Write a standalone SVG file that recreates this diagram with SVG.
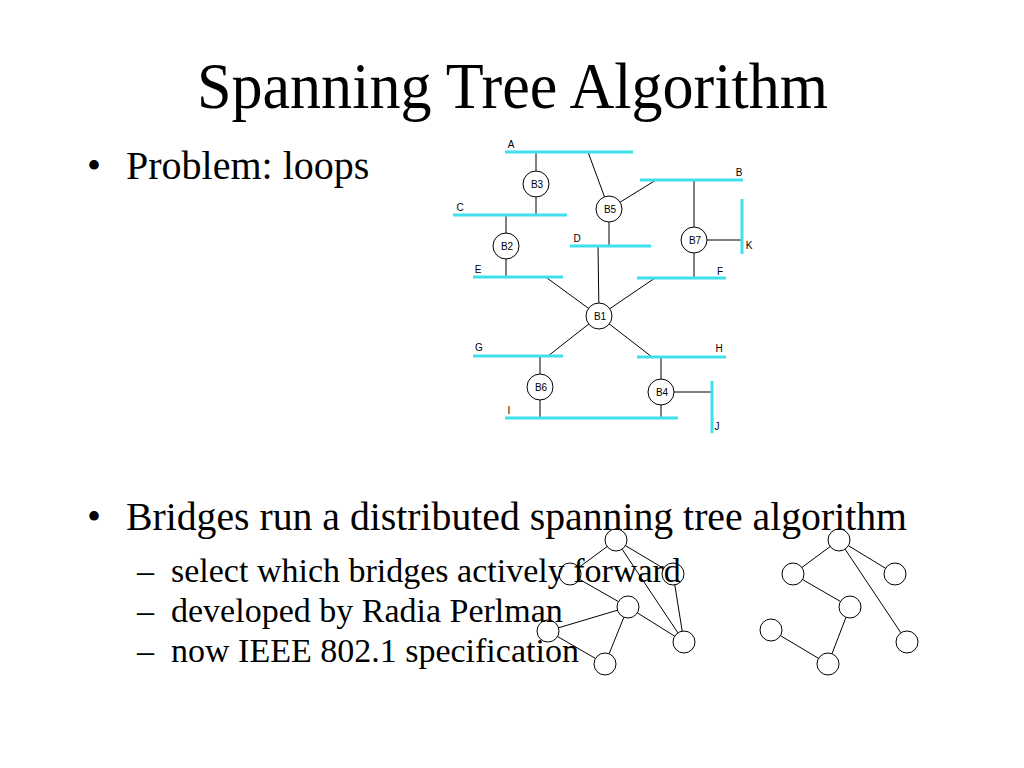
<svg xmlns="http://www.w3.org/2000/svg" width="1024" height="768" viewBox="0 0 1024 768">
<style>
.t{font-family:"Liberation Serif","Times New Roman",serif;fill:#000}
.lbl{font-family:"Liberation Sans",Arial,sans-serif;font-size:10px;fill:#000;text-anchor:middle}
.seg{stroke:#3fe0ee;stroke-width:3;fill:none}
.ln{stroke:#000;stroke-width:1;fill:none}
.br{fill:#fff;stroke:#000;stroke-width:1}
.gn{fill:none;stroke:#000;stroke-width:1}
</style>
<rect width="1024" height="768" fill="#fff"/>
<g id="title"><text class="t" x="197" y="108" font-size="66" textLength="631" lengthAdjust="spacingAndGlyphs">Spanning Tree Algorithm</text></g>
<g id="bullets">
<text class="t" x="87" y="179" font-size="40">•</text>
<text class="t" x="126" y="179" font-size="40">Problem: loops</text>
<text class="t" x="87" y="530" font-size="40">•</text>
<text class="t" x="126" y="530" font-size="40" textLength="781" lengthAdjust="spacingAndGlyphs">Bridges run a distributed spanning tree algorithm</text>
<text class="t" x="137" y="582" font-size="34">–</text>
<text class="t" x="171" y="582" font-size="34">select which bridges actively forward</text>
<text class="t" x="137" y="622" font-size="34">–</text>
<text class="t" x="171" y="622" font-size="34">developed by Radia Perlman</text>
<text class="t" x="137" y="662" font-size="34">–</text>
<text class="t" x="171" y="662" font-size="34">now IEEE 802.1 specification</text>
</g>
<g id="connectors">
<line class="ln" x1="536" y1="152" x2="536" y2="215"/>
<line class="ln" x1="506" y1="215" x2="506" y2="278"/>
<line class="ln" x1="588" y1="152" x2="609" y2="209"/>
<line class="ln" x1="609" y1="209" x2="656" y2="180"/>
<line class="ln" x1="609" y1="209" x2="609" y2="246"/>
<line class="ln" x1="598" y1="246" x2="599" y2="316"/>
<line class="ln" x1="547" y1="278" x2="599" y2="316"/>
<line class="ln" x1="655" y1="278" x2="599" y2="316"/>
<line class="ln" x1="599" y1="316" x2="548" y2="356"/>
<line class="ln" x1="599" y1="316" x2="652" y2="357"/>
<line class="ln" x1="540" y1="356" x2="540" y2="418"/>
<line class="ln" x1="661" y1="357" x2="661" y2="418"/>
<line class="ln" x1="661" y1="392" x2="712" y2="392"/>
<line class="ln" x1="694" y1="180" x2="694" y2="278"/>
<line class="ln" x1="694" y1="240" x2="742" y2="240"/>
<line class="ln" x1="607.2" y1="546.5" x2="578.8" y2="567.5"/>
<line class="ln" x1="625.4" y1="545.6" x2="663.6" y2="568.4"/>
<line class="ln" x1="622.1" y1="549.2" x2="677.9" y2="632.8"/>
<line class="ln" x1="674.8" y1="584.9" x2="682.2" y2="631.1"/>
<line class="ln" x1="579.6" y1="579.4" x2="618.4" y2="601.6"/>
<line class="ln" x1="637.3" y1="612.8" x2="674.7" y2="636.2"/>
<line class="ln" x1="617.5" y1="610.2" x2="558.5" y2="627.8"/>
<line class="ln" x1="623.9" y1="617.2" x2="609.1" y2="653.8"/>
<line class="ln" x1="557.5" y1="636.5" x2="595.5" y2="658.5"/>
<line class="ln" x1="830.2" y1="546.5" x2="801.8" y2="567.5"/>
<line class="ln" x1="848.4" y1="545.7" x2="885.6" y2="568.3"/>
<line class="ln" x1="845.1" y1="549.2" x2="900.9" y2="632.8"/>
<line class="ln" x1="802.5" y1="579.5" x2="840.5" y2="601.5"/>
<line class="ln" x1="846" y1="617.3" x2="832" y2="653.7"/>
<line class="ln" x1="780.4" y1="635.6" x2="818.6" y2="658.4"/>
</g>
<g id="lans">
<g id="lanA"><line class="seg" x1="505" y1="152" x2="633" y2="152"/><text class="lbl" x="511" y="148">A</text></g>
<g id="lanB"><line class="seg" x1="640" y1="180" x2="743" y2="180"/><text class="lbl" x="739" y="176">B</text></g>
<g id="lanC"><line class="seg" x1="453" y1="215" x2="567" y2="215"/><text class="lbl" x="460" y="211">C</text></g>
<g id="lanD"><line class="seg" x1="570" y1="246" x2="651" y2="246"/><text class="lbl" x="577" y="242">D</text></g>
<g id="lanE"><line class="seg" x1="473" y1="277" x2="563" y2="277"/><text class="lbl" x="478" y="273">E</text></g>
<g id="lanF"><line class="seg" x1="637" y1="278" x2="726" y2="278"/><text class="lbl" x="720" y="275">F</text></g>
<g id="lanG"><line class="seg" x1="473" y1="356" x2="563" y2="356"/><text class="lbl" x="479" y="351">G</text></g>
<g id="lanH"><line class="seg" x1="637" y1="357" x2="726" y2="357"/><text class="lbl" x="719" y="352">H</text></g>
<g id="lanI"><line class="seg" x1="505" y1="418" x2="678" y2="418"/><text class="lbl" x="509" y="414">I</text></g>
<g id="lanK"><line class="seg" x1="742" y1="199" x2="742" y2="254"/><text class="lbl" x="749" y="249">K</text></g>
<g id="lanJ"><line class="seg" x1="712" y1="381" x2="712" y2="433"/><text class="lbl" x="717" y="430">J</text></g>
</g>
<g id="bridges">
<g id="B3"><circle class="br" cx="536" cy="184" r="13"/><text class="lbl" x="537" y="188">B3</text></g>
<g id="B2"><circle class="br" cx="506" cy="246" r="13"/><text class="lbl" x="507" y="250">B2</text></g>
<g id="B5"><circle class="br" cx="609" cy="209" r="13"/><text class="lbl" x="610" y="213">B5</text></g>
<g id="B7"><circle class="br" cx="694" cy="240" r="13"/><text class="lbl" x="695" y="244">B7</text></g>
<g id="B1"><circle class="br" cx="599" cy="316" r="13"/><text class="lbl" x="600" y="320">B1</text></g>
<g id="B6"><circle class="br" cx="540" cy="387" r="13"/><text class="lbl" x="541" y="391">B6</text></g>
<g id="B4"><circle class="br" cx="661" cy="392" r="13"/><text class="lbl" x="662" y="396">B4</text></g>
</g>
<g id="graph1">
<circle id="g1n1" class="gn" cx="616" cy="540" r="11"/>
<circle id="g1n2" class="gn" cx="570" cy="574" r="11"/>
<circle id="g1n3" class="gn" cx="673" cy="574" r="11"/>
<circle id="g1n4" class="gn" cx="628" cy="607" r="11"/>
<circle id="g1n5" class="gn" cx="548" cy="631" r="11"/>
<circle id="g1n6" class="gn" cx="684" cy="642" r="11"/>
<circle id="g1n7" class="gn" cx="605" cy="664" r="11"/>
</g>
<g id="graph2">
<circle id="g2n1" class="gn" cx="839" cy="540" r="11"/>
<circle id="g2n2" class="gn" cx="793" cy="574" r="11"/>
<circle id="g2n3" class="gn" cx="895" cy="574" r="11"/>
<circle id="g2n4" class="gn" cx="850" cy="607" r="11"/>
<circle id="g2n5" class="gn" cx="771" cy="630" r="11"/>
<circle id="g2n6" class="gn" cx="907" cy="642" r="11"/>
<circle id="g2n7" class="gn" cx="828" cy="664" r="11"/>
</g>
</svg>
